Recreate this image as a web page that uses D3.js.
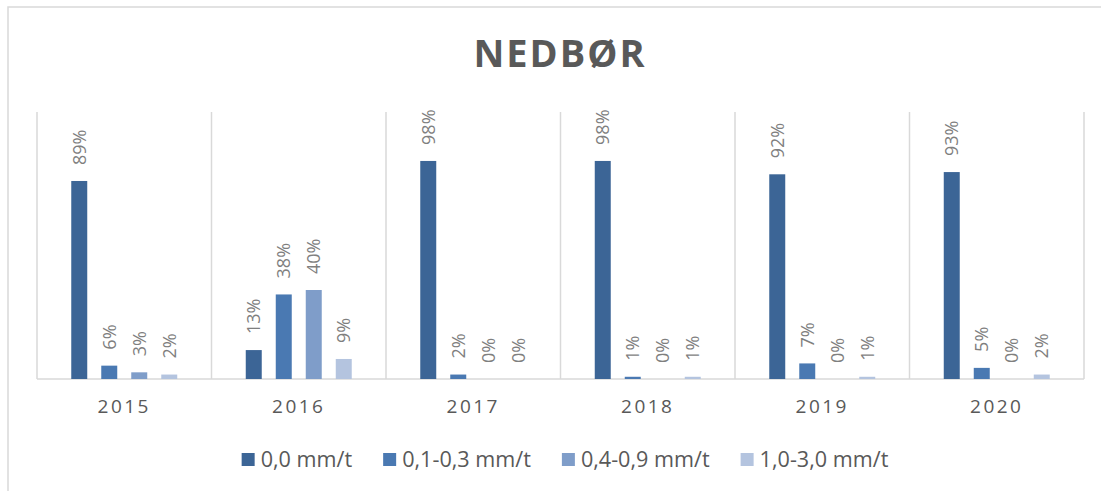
<!DOCTYPE html>
<html>
<head>
<meta charset="utf-8">
<script src="https://cdn.jsdelivr.net/npm/d3@7"></script>
<style>
  body { margin: 0; background: #fff; }
  svg { display: block; }
  text { font-family: "Open Sans", sans-serif; }
</style>
</head>
<body>
<svg id="chart" width="1101" height="491"></svg>
<script>
// data (share of hours, %)
const years = ["2015", "2016", "2017", "2018", "2019", "2020"];
const seriesNames = ["0,0 mm/t", "0,1-0,3 mm/t", "0,4-0,9 mm/t", "1,0-3,0 mm/t"];
const dry = [89, 13, 98, 98, 92, 93];
const light = [6, 38, 2, 1, 7, 5];
const moderate = [3, 40, 0, 0, 0, 0];
const heavy = [2, 9, 0, 1, 1, 2];
const colors = ["#3c6596", "#4a79b2", "#7f9dc9", "#b4c4df"];

const allSeries = [dry, light, moderate, heavy];

const width = 1101;
const height = 491;
const margin = {top: 112, right: 17, bottom: 112, left: 37};

const svg = d3.select("#chart");

// outer chart frame (only top and left edges are inside the picture)
svg.append("rect")
    .attr("x", 8)
    .attr("y", 7)
    .attr("width", 1200)
    .attr("height", 600)
    .attr("fill", "none")
    .attr("stroke", "#d9d9d9")
    .attr("stroke-width", 1.5);

const x0 = d3.scaleBand()
    .domain(years)
    .range([margin.left, width - margin.right]);

const x1 = d3.scaleBand()
    .domain(seriesNames)
    .range([0, x0.bandwidth()])
    .paddingInner(0.467)
    .paddingOuter(1.142);

const y = d3.scaleLinear()
    .domain([0, 120])
    .range([height - margin.bottom, margin.top]);

// vertical separators between the years
const seps = years.map(d => x0(d)).concat([x0.range()[1]]);
svg.append("g")
    .selectAll("line")
    .data(seps)
    .enter()
    .append("line")
    .attr("x1", d => d)
    .attr("x2", d => d)
    .attr("y1", y(120))
    .attr("y2", y(0))
    .attr("stroke", "#d9d9d9")
    .attr("stroke-width", 1.5);

// baseline
svg.append("line")
    .attr("x1", x0.range()[0])
    .attr("x2", x0.range()[1])
    .attr("y1", y(0))
    .attr("y2", y(0))
    .attr("stroke", "#d9d9d9")
    .attr("stroke-width", 1.5);

// flatten to one row per bar
const bars = [];
years.forEach((yr, i) => {
    seriesNames.forEach((s, j) => {
        bars.push({year: yr, series: s, idx: j, value: allSeries[j][i]});
    });
});

svg.append("g")
    .selectAll("rect")
    .data(bars)
    .enter()
    .append("rect")
    .attr("x", d => x0(d.year) + x1(d.series))
    .attr("y", d => y(d.value))
    .attr("width", x1.bandwidth())
    .attr("height", d => y(0) - y(d.value))
    .attr("fill", d => colors[d.idx]);

// rotated value labels above each bar
svg.append("g")
    .selectAll("text")
    .data(bars)
    .enter()
    .append("text")
    .attr("transform", d => {
        const cx = x0(d.year) + x1(d.series) + x1.bandwidth() / 2;
        return `translate(${cx}, ${y(d.value) - 16}) rotate(-90)`;
    })
    .attr("dy", "0.35em")
    .attr("text-anchor", "start")
    .attr("font-size", 18)
    .attr("fill", "#7f7f7f")
    .text(d => d.value + "%");

// year labels
svg.append("g")
    .selectAll("text")
    .data(years)
    .enter()
    .append("text")
    .attr("x", d => x0(d) + x0.bandwidth() / 2)
    .attr("y", 413)
    .attr("text-anchor", "middle")
    .attr("font-size", 19)
    .attr("letter-spacing", 2.5)
    .attr("fill", "#595959")
    .text(d => d);

// title
svg.append("text")
    .attr("x", 560)
    .attr("y", 67)
    .attr("text-anchor", "middle")
    .attr("font-size", 38)
    .attr("font-weight", "bold")
    .attr("letter-spacing", 2)
    .attr("fill", "#595959")
    .text("NEDBØR");

// legend, laid out from the measured text widths
const legend = svg.append("g");
const items = legend.selectAll("g")
    .data(seriesNames)
    .enter()
    .append("g");

items.append("rect")
    .attr("y", 453)
    .attr("width", 13)
    .attr("height", 13)
    .attr("fill", (d, i) => colors[i]);

items.append("text")
    .attr("x", 19)
    .attr("y", 467)
    .attr("font-size", 21.6)
    .attr("fill", "#595959")
    .text(d => d);

const widths = [];
items.each(function() {
    const w = d3.select(this).select("text").node().getComputedTextLength();
    widths.push(w);
});
const gap = 31;
const total = d3.sum(widths) + widths.length * 19 + (widths.length - 1) * gap;
let start = 565 - total / 2;
items.attr("transform", (d, i) => {
    const t = `translate(${start}, 0)`;
    start += 19 + widths[i] + gap;
    return t;
});
</script>
</body>
</html>
